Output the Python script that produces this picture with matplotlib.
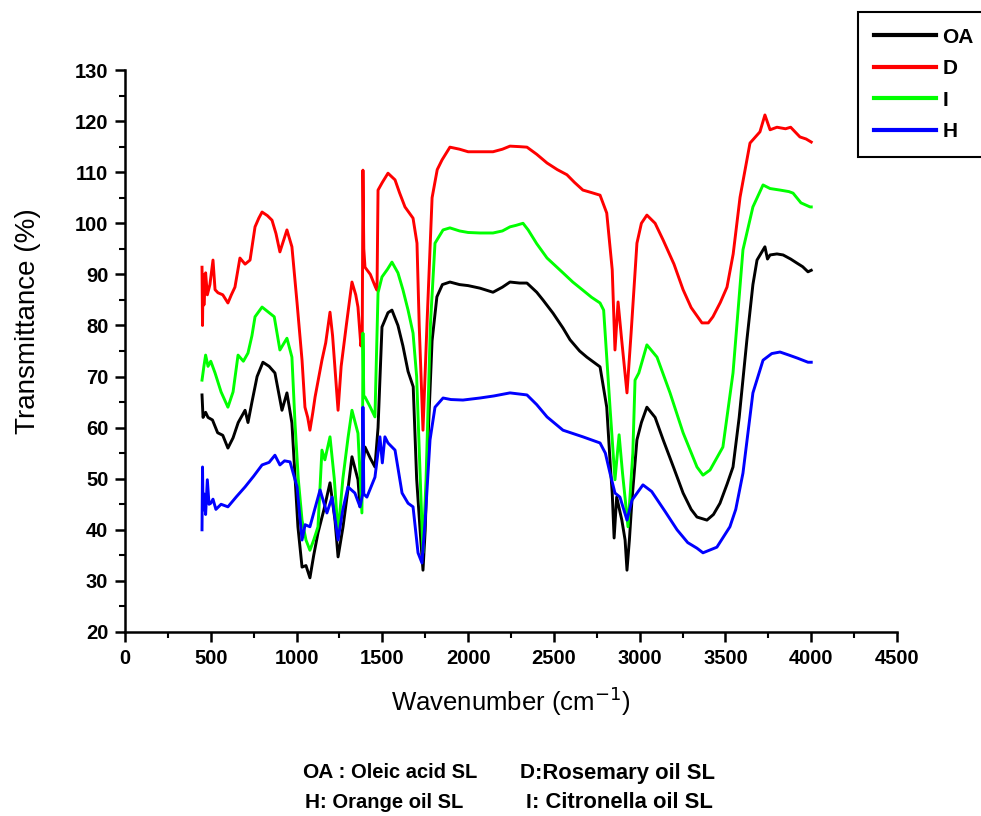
import matplotlib
matplotlib.use("Agg")
import matplotlib.pyplot as plt
from matplotlib.ticker import MultipleLocator

plt.rcParams['font.family'] = ['Liberation Sans', 'DejaVu Sans']

# FTIR spectra (wavenumber in cm-1, transmittance in %)
oa_wn = [449, 455, 470, 484, 510, 540, 570, 600, 630, 660,
         700, 717, 740, 770, 804, 840, 874, 915, 944, 973,
         1008, 1032, 1055, 1078, 1100, 1125, 1160, 1195, 1224, 1242,
         1271, 1300, 1323, 1358, 1370, 1385, 1399, 1430, 1457, 1475,
         1498, 1533, 1556, 1591, 1620, 1650, 1680, 1700, 1720, 1737,
         1750, 1766, 1790, 1818, 1850, 1894, 1950, 2000, 2069, 2145,
         2200, 2244, 2300, 2343, 2400, 2436, 2495, 2553, 2594, 2650,
         2692, 2769, 2808, 2830, 2840, 2851, 2866, 2896, 2915, 2926,
         2940, 2955, 2984, 3010, 3042, 3090, 3137, 3200, 3253, 3300,
         3334, 3392, 3430, 3468, 3510, 3544, 3580, 3625, 3660, 3684,
         3730, 3745, 3760, 3800, 3836, 3880, 3917, 3950, 3981, 4000]
oa_t = [66.4, 62.0, 63.0, 62.0, 61.5, 59.0, 58.5, 56.0, 58.0, 61.0,
        63.4, 61.0, 65.0, 70.0, 72.8, 72.0, 70.7, 63.4, 66.8, 60.9,
        40.6, 32.7, 33.0, 30.6, 35.0, 39.4, 44.0, 49.2, 41.9, 34.7,
        40.6, 48.0, 54.3, 49.8, 44.5, 52.0, 56.2, 54.0, 52.3, 60.0,
        79.7, 82.5, 83.0, 80.0, 76.0, 71.0, 68.0, 50.0, 40.0, 32.1,
        40.0, 57.6, 77.0, 85.6, 88.0, 88.5, 88.0, 87.8, 87.3, 86.5,
        87.5, 88.5, 88.3, 88.3, 86.5, 85.0, 82.4, 79.5, 77.2, 75.0,
        73.8, 71.9, 64.0, 52.0, 47.2, 38.4, 46.4, 41.9, 38.0, 32.1,
        38.0, 45.8, 57.6, 61.0, 64.0, 62.0, 57.6, 52.0, 47.2, 44.0,
        42.5, 41.9, 43.0, 45.2, 49.0, 52.3, 62.0, 77.2, 88.0, 92.8,
        95.4, 93.0, 93.8, 94.0, 93.8, 93.0, 92.2, 91.5, 90.5, 90.8]

d_wn = [449, 452, 455, 460, 470, 480, 495, 513, 525, 542,
        570, 600, 620, 641, 670, 700, 729, 758, 780, 799,
        830, 857, 880, 903, 944, 973, 1003, 1032, 1049, 1065,
        1078, 1095, 1108, 1148, 1170, 1195, 1210, 1242, 1260, 1290,
        1323, 1345, 1358, 1375, 1383, 1387, 1392, 1399, 1430, 1460,
        1469, 1475, 1500, 1533, 1574, 1600, 1632, 1679, 1702, 1715,
        1737, 1760, 1790, 1820, 1848, 1894, 1950, 2000, 2069, 2145,
        2200, 2244, 2300, 2343, 2400, 2460, 2520, 2576, 2620, 2669,
        2720, 2769, 2808, 2840, 2856, 2874, 2895, 2926, 2950, 2984,
        3010, 3042, 3090, 3137, 3200, 3253, 3300, 3363, 3400, 3427,
        3470, 3509, 3545, 3585, 3643, 3701, 3730, 3760, 3800, 3850,
        3880, 3934, 3970, 4000]
d_t = [91.4, 80.0, 90.0, 84.0, 90.3, 86.0, 88.0, 92.8, 87.0, 86.4,
       86.0, 84.4, 86.0, 87.5, 93.2, 92.0, 92.8, 99.3, 101.0, 102.2,
       101.5, 100.6, 98.0, 94.4, 98.7, 95.4, 84.4, 73.2, 64.0, 62.0,
       59.5, 63.0, 66.0, 73.2, 76.6, 82.6, 78.0, 63.4, 72.0, 80.0,
       88.5, 86.0, 83.6, 76.0, 78.0, 110.4, 95.0, 91.4, 90.0, 87.5,
       86.9, 106.5, 108.0, 109.8, 108.5, 106.0, 103.2, 101.0, 96.1, 80.0,
       59.5, 80.0, 105.0, 110.5, 112.4, 114.9, 114.5, 114.0, 114.0, 114.0,
       114.5, 115.1, 115.0, 114.9, 113.5, 111.8, 110.5, 109.5, 108.0, 106.5,
       106.0, 105.5, 102.0, 90.9, 75.2, 84.6, 77.2, 66.8, 78.5, 96.1,
       100.0, 101.6, 100.0, 96.7, 92.0, 87.0, 83.5, 80.5, 80.5, 81.7,
       84.5, 87.5, 94.0, 105.1, 115.7, 117.9, 121.2, 118.3, 118.8, 118.5,
       118.8, 116.9, 116.5, 115.9]

i_wn = [449, 460, 470, 484, 500, 525, 560, 600, 630, 659,
        690, 717, 740, 758, 799, 840, 870, 903, 944, 973,
        991, 1010, 1032, 1055, 1078, 1100, 1125, 1148, 1165, 1195,
        1220, 1242, 1270, 1300, 1323, 1358, 1381, 1385, 1387, 1392,
        1399, 1430, 1457, 1475, 1498, 1530, 1556, 1591, 1620, 1650,
        1679, 1700, 1720, 1737, 1755, 1780, 1807, 1854, 1894, 1950,
        2000, 2069, 2145, 2200, 2244, 2280, 2320, 2350, 2400, 2460,
        2553, 2610, 2669, 2720, 2769, 2790, 2827, 2856, 2880, 2900,
        2932, 2960, 2973, 2995, 3042, 3101, 3177, 3253, 3334, 3369,
        3410, 3485, 3544, 3602, 3660, 3719, 3760, 3818, 3870, 3894,
        3940, 3993, 4000]
i_t = [69.3, 72.0, 74.2, 72.0, 73.0, 70.7, 67.0, 64.0, 67.0, 74.2,
       73.0, 74.6, 78.0, 81.7, 83.6, 82.5, 81.7, 75.2, 77.5, 73.8,
       60.9, 50.0, 41.9, 38.0, 36.0, 38.0, 40.6, 55.6, 53.7, 58.2,
       50.0, 39.4, 50.0, 58.0, 63.4, 58.9, 43.3, 60.0, 78.5, 66.0,
       66.0, 64.0, 62.1, 86.4, 89.5, 91.0, 92.4, 90.3, 87.0, 83.0,
       78.5, 70.0, 51.0, 35.5, 50.0, 80.0, 96.1, 98.7, 99.1, 98.5,
       98.2, 98.1, 98.1, 98.5, 99.3, 99.6, 100.0, 98.7, 96.0, 93.2,
       90.3, 88.5, 86.9, 85.5, 84.4, 83.0, 64.0, 49.8, 58.6, 51.1,
       40.6, 55.0, 69.3, 70.7, 76.2, 73.8, 66.8, 59.0, 52.3, 50.7,
       51.7, 56.2, 70.7, 94.8, 103.2, 107.5, 106.8, 106.5, 106.2, 105.9,
       104.0, 103.2, 103.2]

h_wn = [449, 452, 455, 462, 470, 480, 490, 500, 513, 530,
        560, 600, 650, 700, 750, 799, 840, 874, 903, 930,
        962, 1003, 1032, 1050, 1078, 1137, 1177, 1207, 1242, 1270,
        1300, 1340, 1370, 1385, 1387, 1392, 1410, 1457, 1486, 1500,
        1515, 1533, 1574, 1615, 1650, 1679, 1708, 1731, 1750, 1778,
        1807, 1854, 1900, 1970, 2069, 2150, 2244, 2343, 2400, 2460,
        2553, 2669, 2769, 2800, 2827, 2856, 2885, 2926, 2955, 3019,
        3070, 3150, 3218, 3280, 3334, 3369, 3450, 3526, 3560, 3602,
        3660, 3719, 3770, 3818, 3870, 3920, 3981, 4000]
h_t = [40.0, 52.3, 43.9, 47.0, 43.0, 49.8, 45.0, 45.2, 46.0, 44.0,
       45.0, 44.5, 46.5, 48.4, 50.5, 52.7, 53.2, 54.6, 52.7, 53.5,
       53.3, 48.4, 38.0, 41.0, 40.6, 47.8, 43.3, 46.4, 38.0, 44.0,
       48.4, 47.2, 44.5, 47.0, 64.0, 47.0, 46.4, 50.3, 58.2, 53.1,
       58.2, 57.0, 55.6, 47.2, 45.2, 44.5, 35.5, 33.5, 42.0, 57.6,
       64.0, 65.8, 65.5, 65.4, 65.8, 66.2, 66.8, 66.4, 64.5, 62.1,
       59.5, 58.2, 57.0, 55.0, 51.1, 47.2, 46.4, 41.9, 45.8, 48.8,
       47.5, 43.5, 40.0, 37.5, 36.4, 35.5, 36.6, 40.6, 44.0, 51.1,
       66.8, 73.2, 74.5, 74.8, 74.2, 73.6, 72.8, 72.8]

series_labels = ["OA", "D", "I", "H"]
series_colors = ["#000000", "#ff0000", "#00ff00", "#0000ff"]

fig = plt.figure(figsize=(9.81, 8.16), dpi=100)
ax = fig.add_axes([0.1274, 0.2255, 0.787, 0.6887])

for wn, t, lab, col in zip([oa_wn, d_wn, i_wn, h_wn], [oa_t, d_t, i_t, h_t],
                           series_labels, series_colors):
    ax.plot(wn, t, color=col, lw=2.1, label=lab, solid_joinstyle='round')

ax.set_xlim(0, 4500)
ax.set_ylim(20, 130)
ax.xaxis.set_major_locator(MultipleLocator(500))
ax.xaxis.set_minor_locator(MultipleLocator(250))
ax.yaxis.set_major_locator(MultipleLocator(10))
ax.yaxis.set_minor_locator(MultipleLocator(5))
for side in ("top", "right"):
    ax.spines[side].set_visible(False)
for side in ("left", "bottom"):
    ax.spines[side].set_linewidth(1.8)
ax.tick_params(which="major", direction="out", length=7, width=1.8,
               labelsize=14.5, pad=5)
ax.tick_params(which="minor", direction="out", length=4, width=1.5)
for lbl in ax.get_xticklabels() + ax.get_yticklabels():
    lbl.set_fontweight("bold")

ax.set_xlabel("Wavenumber (cm$^{-1}$)", fontsize=18.5, labelpad=12)
ax.set_ylabel("Transmittance (%)", fontsize=20, va="center")
ax.yaxis.set_label_coords(-0.1256, 0.553)

leg = fig.legend(loc="upper left", bbox_to_anchor=(858 / 981, 1 - 12 / 816),
                 fontsize=15, handlelength=3.0, handletextpad=0.3,
                 labelspacing=0.6, borderpad=0.75, fancybox=False,
                 framealpha=1, edgecolor="black", borderaxespad=0)
leg.get_frame().set_linewidth(1.5)
for txt in leg.get_texts():
    txt.set_fontweight("bold")
for ln in leg.get_lines():
    ln.set_linewidth(3)

# Sample key below the plot
keys = [("OA", " : Oleic acid SL", 302 / 981, 1 - 773 / 816, 14.5),
        ("D", ":Rosemary oil SL", 520 / 981, 1 - 773 / 816, 15.8),
        ("H", ": Orange oil SL", 305 / 981, 1 - 803 / 816, 14.5),
        ("I", ": Citronella oil SL", 526 / 981, 1 - 803 / 816, 15.8)]
for key, rest, x, y, fs in keys:
    t1 = fig.text(x, y, key, fontsize=15, fontweight="bold", va="center", ha="left")
    ax.annotate(rest, xy=(1, 0.5), xycoords=t1, va="center", ha="left",
                fontsize=fs, fontweight="bold", annotation_clip=False)

fig.savefig("out.png", dpi=100)
